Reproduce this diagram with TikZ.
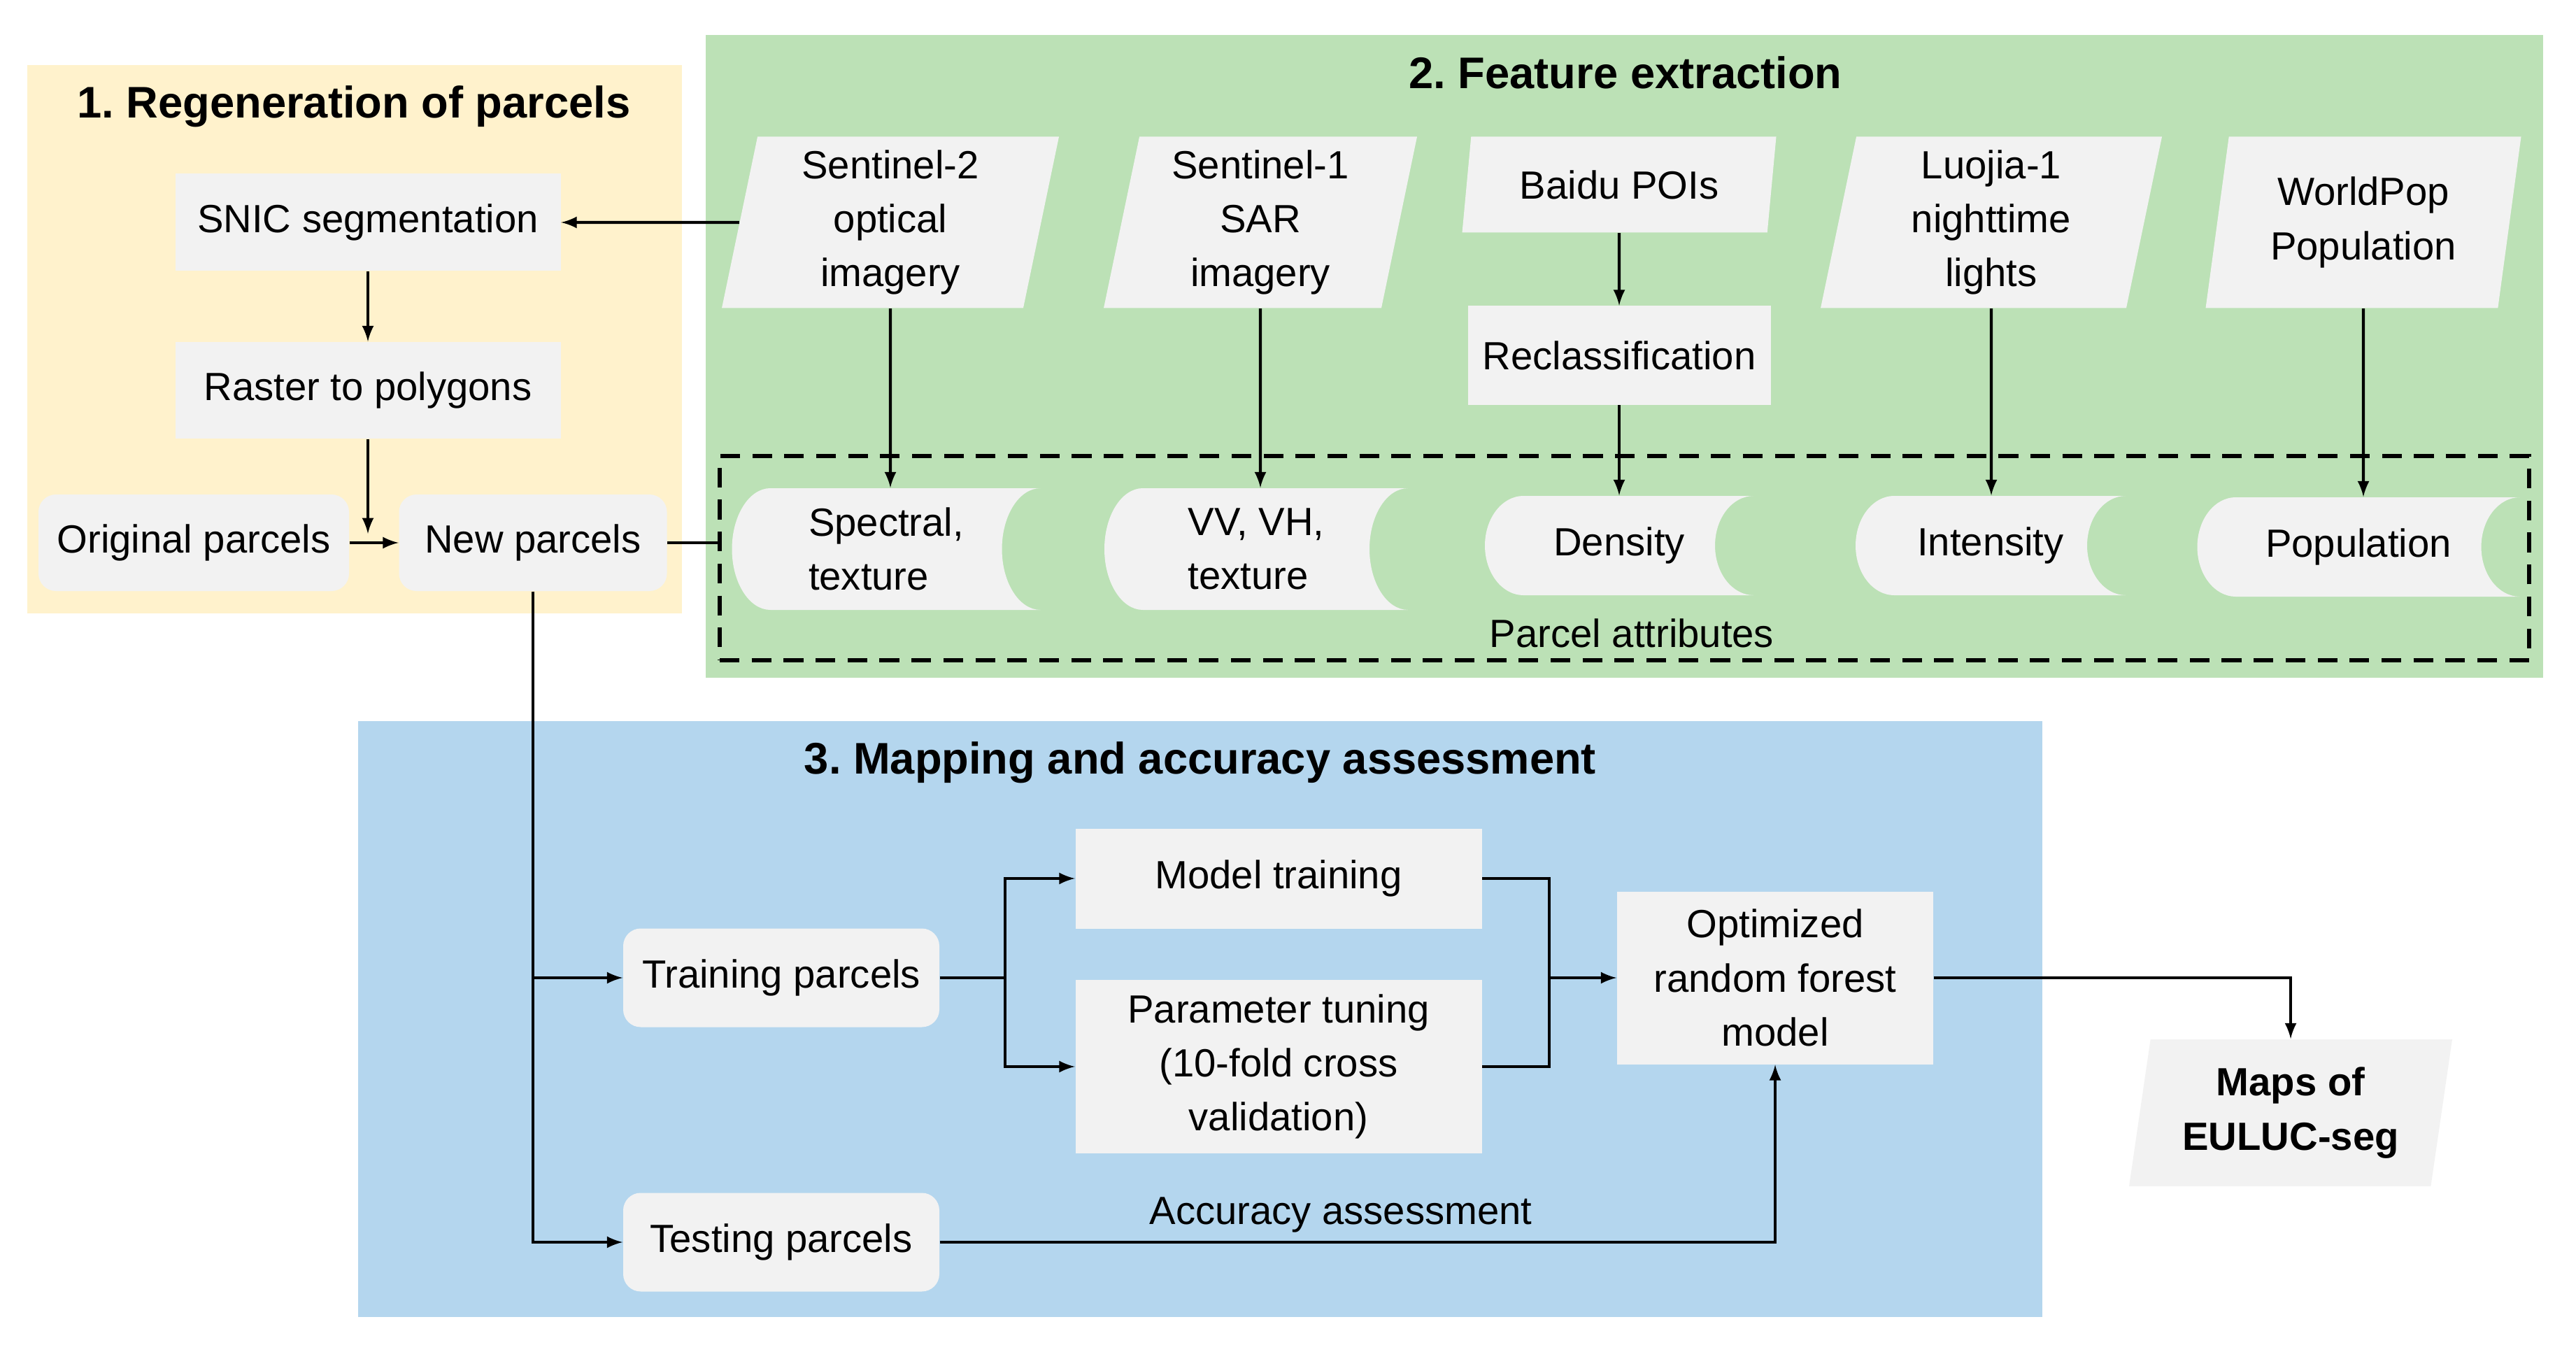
\documentclass[tikz,border=0pt]{standalone}
\usepackage{fontspec}
\setmainfont{Liberation Sans}
\usetikzlibrary{arrows}
\usetikzlibrary{positioning}
\usetikzlibrary{shapes.geometric}
\usetikzlibrary{calc}

\definecolor{regyellow}{RGB}{255,242,204}
\definecolor{featgreen}{RGB}{188,225,182}
\definecolor{mapblue}{RGB}{180,214,238}
\definecolor{boxgray}{RGB}{242,242,242}

\begin{document}
\frenchspacing
\begin{tikzpicture}[font=\fontsize{16}{22}\selectfont]
	%\draw[help lines] (0,0) grid (37,-20);
	\useasboundingbox (0,0) rectangle (36.83,-19.23);

	\tikzstyle{pbox} = [fill=boxgray,inner sep=2pt,align=center]
	\tikzstyle{rbox} = [pbox,rounded corners=0.25cm]
	\tikzstyle{dbox} = [trapezium,trapezium left angle=77,trapezium right angle=103,trapezium stretches body,fill=boxgray,inner sep=2pt,align=center]
	\tikzstyle{abox} = [inner sep=0pt,align=left,path picture={
		\fill[boxgray] let \p1=(path picture bounding box.north west), \p2=(path picture bounding box.south east), \n1={(\y1-\y2)/2} in
		(\x1+0.55cm,\y1) -- (\x2,\y1) arc[start angle=90,end angle=270,x radius=0.55cm,y radius=\n1]
		-- (\x1+0.55cm,\y2) arc[start angle=270,end angle=90,x radius=0.55cm,y radius=\n1] -- cycle;}]
	\tikzstyle{ttl} = [font=\fontsize{18}{22}\selectfont\bfseries]
	\tikzstyle{vedge} = [->,>=latex,line width=1.2pt]
	\tikzstyle{pline} = [line width=1.2pt]

	% panels
	\fill[regyellow] (0.39,-0.93) rectangle (9.75,-8.77);
	\fill[featgreen] (10.09,-0.50) rectangle (36.36,-9.69);
	\fill[mapblue] (5.12,-10.31) rectangle (29.20,-18.83);

	\node[draw,dash pattern=on 8pt off 5pt,line width=1.7pt,minimum width=25.87cm,minimum height=2.92cm,inner sep=0pt] (attrbox) at (23.225,-7.98) {};

	% 1. regeneration
	\node[ttl] (title1) at (5.06,-1.52) {1. Regeneration of parcels};
	\node[pbox,minimum width=5.51cm,minimum height=1.39cm] (snic) at (5.26,-3.18) {SNIC segmentation};
	\node[pbox,minimum width=5.51cm,minimum height=1.38cm] (raster) at (5.26,-5.58) {Raster to polygons};
	\node[rbox,minimum width=4.44cm,minimum height=1.38cm] (orig) at (2.77,-7.76) {Original parcels};
	\node[rbox,minimum width=3.83cm,minimum height=1.38cm] (newp) at (7.62,-7.76) {New parcels};
	\coordinate (rjoin) at (5.26,-7.63);

	% 2. feature extraction
	\node[ttl] (title2) at (23.24,-1.04) {2. Feature extraction};
	\node[dbox,minimum width=4.82cm,minimum height=2.45cm] (s2) at (12.73,-3.18) {Sentinel-2\\optical\\imagery};
	\node[dbox,minimum width=4.48cm,minimum height=2.45cm] (s1) at (18.02,-3.18) {Sentinel-1\\SAR\\imagery};
	\node[dbox,minimum width=4.49cm,minimum height=1.37cm] (baidu) at (23.15,-2.64) {Baidu POIs};
	\node[pbox,minimum width=4.33cm,minimum height=1.41cm] (reclass) at (23.15,-5.08) {Reclassification};
	\node[dbox,minimum width=4.88cm,minimum height=2.45cm] (luojia) at (28.47,-3.18) {Luojia-1\\nighttime\\lights};
	\node[dbox,minimum width=4.51cm,minimum height=2.45cm] (wpop) at (33.79,-3.18) {WorldPop\\Population};

	\node[abox,minimum width=4.41cm,minimum height=1.74cm] (spec) at (12.67,-7.85) {Spectral,\\texture};
	\node[abox,minimum width=4.34cm,minimum height=1.74cm] (vvvh) at (17.96,-7.85) {VV, VH,\\texture};
	\node[abox,minimum width=3.84cm,minimum height=1.42cm] (dens) at (23.15,-7.80) {Density};
	\node[abox,minimum width=3.86cm,minimum height=1.42cm] (inten) at (28.46,-7.80) {Intensity};
	\node[abox,minimum width=4.61cm,minimum height=1.42cm] (popu) at (33.72,-7.82) {Population};
	\node (attrlbl) at (23.33,-9.05) {Parcel attributes};

	% 3. mapping
	\node[ttl] (title3) at (17.16,-10.90) {3. Mapping and accuracy assessment};
	\node[rbox,minimum width=4.52cm,minimum height=1.41cm] (train) at (11.17,-13.98) {Training parcels};
	\node[rbox,minimum width=4.52cm,minimum height=1.41cm] (test) at (11.17,-17.76) {Testing parcels};
	\node[pbox,minimum width=5.81cm,minimum height=1.43cm] (model) at (18.28,-12.56) {Model training};
	\node[pbox,minimum width=5.81cm,minimum height=2.48cm] (param) at (18.28,-15.25) {Parameter tuning\\(10-fold cross\\validation)};
	\node[pbox,minimum width=4.52cm,minimum height=2.47cm] (opt) at (25.38,-13.98) {Optimized\\random forest\\model};
	\node[dbox,trapezium left angle=78,trapezium right angle=102,minimum width=4.62cm,minimum height=2.10cm,font=\fontsize{16}{22}\selectfont\bfseries] (maps) at (32.75,-15.91) {Maps of\\EULUC-seg};
	\coordinate (split) at (14.37,-13.98);
	\coordinate (join) at (22.15,-13.98);

	% edges
	\draw[vedge] (s2) -- (snic);
	\draw[vedge] (snic) -- (raster);
	\draw[vedge] (raster) -- (rjoin);
	\draw[vedge] (orig) -- (newp);
	\draw[pline] (newp) -- (newp -| attrbox.west);

	\draw[vedge] (s2) -- (s2 |- spec.north);
	\draw[vedge] (s1) -- (s1 |- vvvh.north);
	\draw[vedge] (baidu) -- (reclass);
	\draw[vedge] (reclass) -- (reclass |- dens.north);
	\draw[vedge] (luojia) -- (luojia |- inten.north);
	\draw[vedge] (wpop) -- (wpop |- popu.north);

	\draw[vedge] (newp) |- (train);
	\draw[vedge] (newp) |- (test);
	\draw[pline] (train) -- (split);
	\draw[vedge] (split) |- (model);
	\draw[vedge] (split) |- (param);
	\draw[pline] (model) -| (join);
	\draw[pline] (param) -| (join);
	\draw[vedge] (join) -- (opt);
	\draw[vedge] (test) -| node[pos=0.24,above] (acclbl) {Accuracy assessment} (opt);
	\draw[vedge] (opt) -| (maps);

\end{tikzpicture}
\end{document}
